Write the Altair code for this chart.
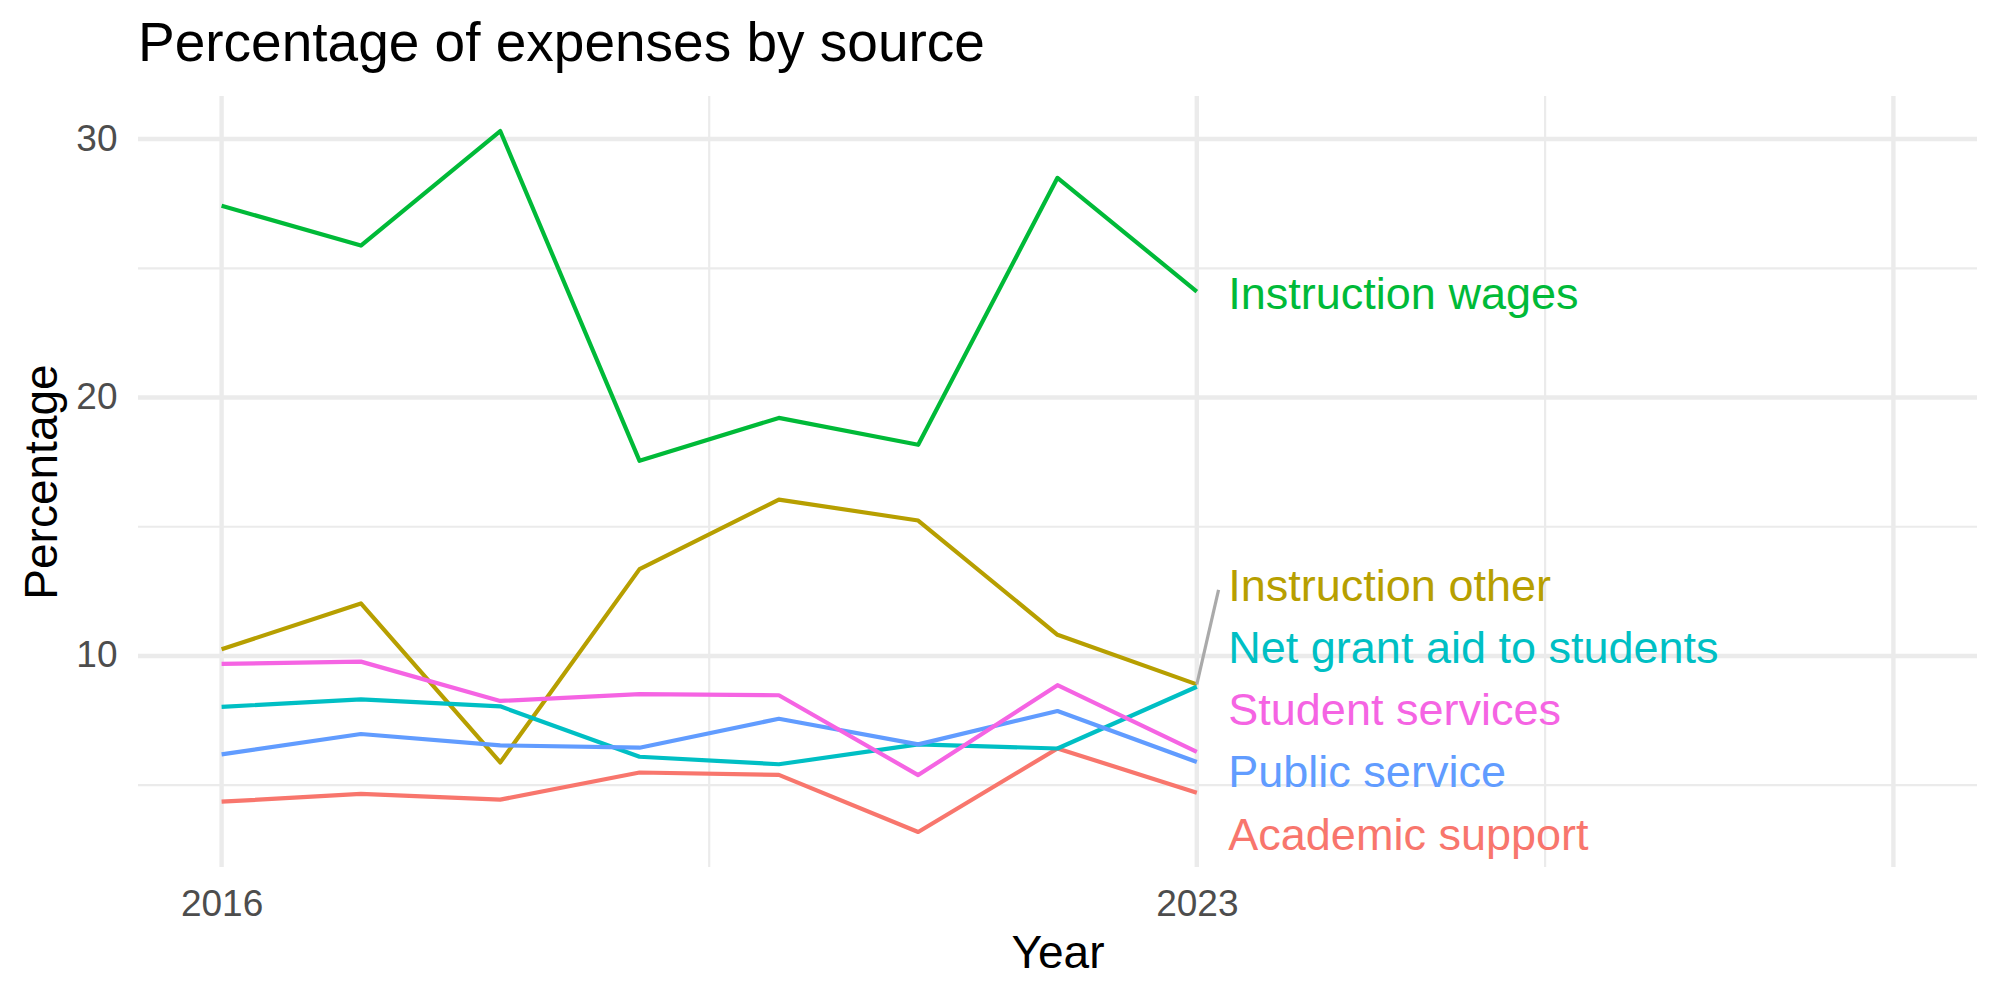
import altair as alt
import pandas as pd

# Share of expenses (%) by source, 2016-2023
years = [2016, 2017, 2018, 2019, 2020, 2021, 2022, 2023]
academic_support = [4.36, 4.66, 4.44, 5.49, 5.40, 3.19, 6.42, 4.71]
instruction_other = [10.26, 12.03, 5.88, 13.36, 16.05, 15.24, 10.82, 8.90]
instruction_wages = [27.42, 25.88, 30.31, 17.55, 19.21, 18.17, 28.50, 24.10]
net_grant_aid = [8.03, 8.32, 8.05, 6.10, 5.81, 6.58, 6.42, 8.81]
public_service = [6.19, 6.98, 6.54, 6.45, 7.57, 6.58, 7.87, 5.90]
student_services = [9.69, 9.78, 8.26, 8.52, 8.48, 5.39, 8.87, 6.29]

sources = [
    "Academic support",
    "Instruction other",
    "Instruction wages",
    "Net grant aid to students",
    "Public service",
    "Student services",
]
series = [
    academic_support,
    instruction_other,
    instruction_wages,
    net_grant_aid,
    public_service,
    student_services,
]
palette = ["#F8766D", "#B79F00", "#00BA38", "#00BFC4", "#619CFF", "#F564E3"]

# End-of-line labels, spread apart so they do not overlap (year, percent)
label_year = 2023.226
label_values = [2.48, 12.13, 23.43, 9.73, 4.92, 7.32]
# Leader line from the last "Instruction other" point to its label
leader_end = (2023.156, 12.56)

# Axis breaks
x_limits = [2016, 2028]
x_major = [2016, 2023, 2028]
x_minor = [2019.5, 2025.5]
x_labelled = [2016, 2023]
y_major = [10, 20, 30]
y_minor = [5, 15, 25]

FONT = "Liberation Sans"
GRID = "#EBEBEB"

rows = []
for name, vals in zip(sources, series):
    for yr, v in zip(years, vals):
        rows.append({"source": name, "year": yr, "value": v})
df = pd.DataFrame(rows)

labels_df = pd.DataFrame(
    {"source": sources, "year": [label_year] * len(sources), "value": label_values}
)
leader_df = pd.DataFrame(
    {
        "year": [years[-1]],
        "value": [instruction_other[-1]],
        "year2": [leader_end[0]],
        "value2": [leader_end[1]],
    }
)

# 5% expansion on both scales
all_vals = [v for s in series for v in s]
lo, hi = min(all_vals), max(all_vals)
ypad = 0.05 * (hi - lo)
xpad = 0.05 * (x_limits[1] - x_limits[0])
xscale = alt.Scale(domain=[x_limits[0] - xpad, x_limits[1] + xpad], nice=False, zero=False)
yscale = alt.Scale(domain=[lo - ypad, hi + ypad], nice=False, zero=False)
cscale = alt.Scale(domain=sources, range=palette)

x_axis = alt.Axis(
    values=x_labelled,
    format="d",
    grid=False,
    domain=False,
    ticks=False,
    tickSize=0,
    labelFont=FONT,
    labelFontSize=37,
    labelColor="#4D4D4D",
    labelBaseline="alphabetic",
    labelPadding=48,
    title="Year",
    titleFont=FONT,
    titleFontSize=46,
    titleFontWeight="normal",
    titleColor="black",
    titleX=919.5,
    titleY=100,
    titleAlign="center",
    titleBaseline="alphabetic",
)
y_axis = alt.Axis(
    values=y_major,
    grid=False,
    domain=False,
    ticks=False,
    tickSize=0,
    labelFont=FONT,
    labelFontSize=37,
    labelColor="#4D4D4D",
    labelAlign="right",
    labelBaseline="middle",
    labelPadding=21,
    title="Percentage",
    titleFont=FONT,
    titleFontSize=46,
    titleFontWeight="normal",
    titleColor="black",
    titleAngle=270,
    titleX=-82,
    titleY=385.5,
    titleAlign="center",
    titleBaseline="alphabetic",
)


def vgrid(vals, width):
    return (
        alt.Chart(pd.DataFrame({"year": vals}))
        .mark_rule(color=GRID, strokeWidth=width)
        .encode(x=alt.X("year:Q", scale=xscale, axis=x_axis))
    )


def hgrid(vals, width):
    return (
        alt.Chart(pd.DataFrame({"value": vals}))
        .mark_rule(color=GRID, strokeWidth=width)
        .encode(y=alt.Y("value:Q", scale=yscale, axis=y_axis))
    )


lines = (
    alt.Chart(df)
    .mark_line(strokeWidth=4.2, strokeJoin="round", strokeCap="butt")
    .encode(
        x=alt.X("year:Q", scale=xscale, axis=x_axis),
        y=alt.Y("value:Q", scale=yscale, axis=y_axis),
        color=alt.Color("source:N", scale=cscale, legend=None),
        detail="source:N",
    )
)

leader = (
    alt.Chart(leader_df)
    .mark_rule(color="#AAAAAA", strokeWidth=3.2)
    .encode(
        x=alt.X("year:Q", scale=xscale, axis=x_axis),
        y=alt.Y("value:Q", scale=yscale, axis=y_axis),
        x2="year2:Q",
        y2="value2:Q",
    )
)

labels = (
    alt.Chart(labels_df)
    .mark_text(align="left", baseline="alphabetic", fontSize=45, font=FONT)
    .encode(
        x=alt.X("year:Q", scale=xscale, axis=x_axis),
        y=alt.Y("value:Q", scale=yscale, axis=y_axis),
        text="source:N",
        color=alt.Color("source:N", scale=cscale, legend=None),
    )
)

chart = (
    alt.layer(
        vgrid(x_minor, 2.2),
        hgrid(y_minor, 2.2),
        vgrid(x_major, 4.4),
        hgrid(y_major, 4.4),
        lines,
        leader,
        labels,
    )
    .properties(
        width=1839,
        height=771,
        title=alt.TitleParams(
            "Percentage of expenses by source",
            anchor="start",
            frame="group",
            font=FONT,
            fontSize=55,
            fontWeight="normal",
            color="black",
            baseline="alphabetic",
            offset=23,
            dy=45,
        ),
        autosize=alt.AutoSizeParams(type="none"),
        padding={"left": 138, "top": 96, "right": 23, "bottom": 133},
        background="white",
    )
    .configure_view(stroke=None)
)

chart.save("out.html", embed_options={"renderer": "svg", "actions": False})
